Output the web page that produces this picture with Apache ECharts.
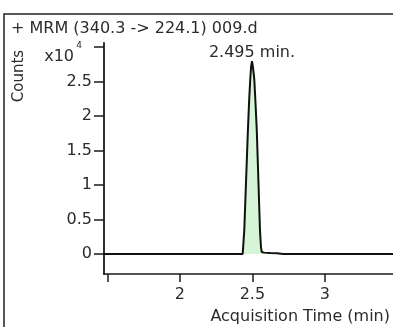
<!DOCTYPE html>
<html>
<head>
<meta charset="utf-8">
<script src="https://cdn.jsdelivr.net/npm/echarts@6/dist/echarts.min.js"></script>
<style>
html,body{margin:0;padding:0;background:#fff;}
#chart{width:393px;height:327px;}
</style>
</head>
<body>
<div id="chart"></div>
<script>
// Chromatogram data (counts in units of 10^4)
const times  = [1.45, 2.40, 2.433, 2.444, 2.456, 2.469, 2.478, 2.485, 2.491, 2.497, 2.503, 2.508, 2.513, 2.521, 2.530, 2.541, 2.552, 2.559, 2.564, 2.58, 2.62, 2.67, 2.711, 3.50];
const counts = [0,    0,    0,     0.35,  1.05,  1.80,  2.25,  2.53,  2.72,  2.795, 2.72,  2.63,  2.53,  2.20,  1.80,  1.08,  0.35,  0.10,  0.03,  0.02, 0.015, 0.01, 0,     0];
const xTicks = [1.5, 2, 2.5, 3];
const xTickLabels = [2, 2.5, 3];
const yTicks = [0, 0.5, 1, 1.5, 2, 2.5, 3];
const titleText = '+ MRM (340.3 -> 224.1) 009.d';
const peakLabel = '2.495 min.';
const xName = 'Acquisition Time (min)';
const yName = 'Counts';
const yExpBase = 'x10';
const yExp = '4';

const FONT = 'DejaVu Sans';
const TXT = '#2b2b2b';
const AX = '#1a1a1a';

const chart = echarts.init(document.getElementById('chart'), null, {renderer: 'canvas'});
chart.setOption({
  backgroundColor: '#fff',
  animation: false,
  grid: {left: 104, right: 0, top: 43, bottom: 53, containLabel: false, outerBoundsMode: 'none'},
  xAxis: {
    type: 'value', min: 1.477, max: 3.469,
    axisLine: {show: true, onZero: false, lineStyle: {color: AX, width: 1.5}},
    axisTick: {show: true, length: 8, customValues: xTicks, lineStyle: {color: AX, width: 1.5}},
    axisLabel: {customValues: xTickLabels, margin: 13, fontFamily: FONT, fontSize: 16, color: TXT},
    splitLine: {show: false}
  },
  yAxis: {
    type: 'value', min: -0.29, max: 3.06,
    axisLine: {show: true, onZero: false, lineStyle: {color: AX, width: 1.8}},
    axisTick: {show: true, length: 10, customValues: yTicks, lineStyle: {color: AX, width: 1.5}},
    axisLabel: {
      customValues: yTicks, margin: 12, fontFamily: FONT, fontSize: 16, color: TXT,
      formatter: v => (v === 3 ? '{e|' + yExp + '}' : String(v)),
      rich: {e: {fontFamily: FONT, fontSize: 9, color: TXT, padding: [0, 10, 2, 0]}}
    },
    splitLine: {show: false}
  },
  series: [{
    type: 'line',
    data: times.map((t, i) => [t, counts[i]]),
    showSymbol: false,
    symbol: 'none',
    lineStyle: {color: '#111', width: 2},
    areaStyle: {color: '#d6f5d6', opacity: 1, origin: 0},
    markPoint: {
      symbol: 'circle', symbolSize: 0,
      data: [{type: 'max'}],
      label: {show: true, position: 'top', distance: 0, formatter: peakLabel,
              fontFamily: FONT, fontSize: 16, color: TXT}
    }
  }],
  graphic: [
    {type: 'rect', shape: {x: 4, y: 14, width: 430, height: 400},
     style: {fill: 'none', stroke: '#222', lineWidth: 1.5}, silent: true},
    {type: 'text', left: 11, top: 21,
     style: {text: titleText, font: '16px "DejaVu Sans"', fill: TXT}},
    {type: 'text', x: 19, y: 76, rotation: Math.PI / 2,
     style: {text: yName, font: '15px "DejaVu Sans"', fill: TXT, align: 'center', verticalAlign: 'middle'}},
    {type: 'text', x: 74, y: 57,
     style: {text: yExpBase, font: '16px "DejaVu Sans"', fill: TXT, align: 'right', verticalAlign: 'middle'}},
    {type: 'text', x: 390, y: 317,
     style: {text: xName, font: '16px "DejaVu Sans"', fill: TXT, align: 'right', verticalAlign: 'middle'}}
  ]
});
</script>
</body>
</html>
